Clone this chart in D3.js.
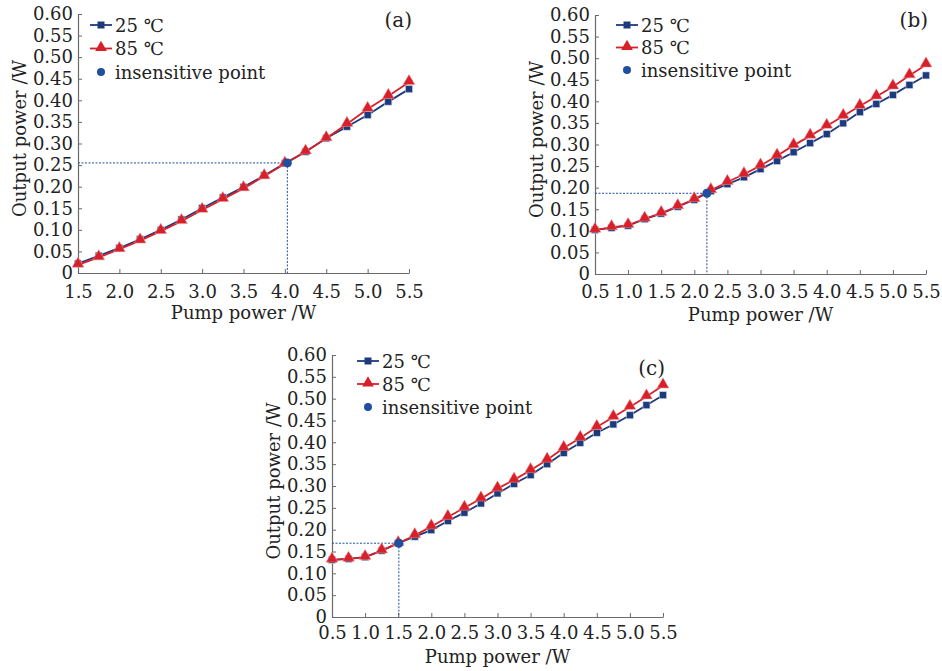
<!DOCTYPE html>
<html>
<head>
<meta charset="utf-8">
<script src="https://cdn.jsdelivr.net/npm/d3@7/dist/d3.min.js"></script>
<style>
  html, body { margin: 0; padding: 0; background: #fff; }
  svg { display: block; }
  text { font-family: "DejaVu Serif", "Liberation Serif", serif; fill: #222; }
</style>
</head>
<body>
<svg id="chart" width="942" height="671"></svg>
<script>
// ---------------- Data ----------------
const yTicks = [0, 0.05, 0.10, 0.15, 0.20, 0.25, 0.30, 0.35, 0.40, 0.45, 0.50, 0.55, 0.60];
const seriesNames = ["25 \u2103", "85 \u2103", "insensitive point"];
const xTitle = "Pump power /W";
const yTitle = "Output power /W";

// Panel (a)
const aX = [1.5, 1.75, 2.0, 2.25, 2.5, 2.75, 3.0, 3.25, 3.5, 3.75, 4.0, 4.25, 4.5, 4.75, 5.0, 5.25, 5.5];
const a25 = [0.022, 0.040, 0.058, 0.078, 0.100, 0.124, 0.150, 0.175, 0.199, 0.226, 0.254, 0.281, 0.312, 0.339, 0.366, 0.397, 0.426];
const a85 = [0.019, 0.036, 0.055, 0.075, 0.097, 0.120, 0.146, 0.171, 0.196, 0.224, 0.253, 0.281, 0.312, 0.345, 0.380, 0.410, 0.442];
const aXTicks = [1.5, 2.0, 2.5, 3.0, 3.5, 4.0, 4.5, 5.0, 5.5];
const aPoint = [4.03, 0.255];

// Panel (b)
const bX = [0.5, 0.75, 1.0, 1.25, 1.5, 1.75, 2.0, 2.25, 2.5, 2.75, 3.0, 3.25, 3.5, 3.75, 4.0, 4.25, 4.5, 4.75, 5.0, 5.25, 5.5];
const b25 = [0.102, 0.107, 0.112, 0.127, 0.140, 0.156, 0.172, 0.192, 0.208, 0.224, 0.243, 0.262, 0.282, 0.303, 0.324, 0.349, 0.375, 0.394, 0.415, 0.438, 0.460];
const b85 = [0.102, 0.108, 0.113, 0.128, 0.141, 0.157, 0.173, 0.194, 0.213, 0.231, 0.251, 0.274, 0.298, 0.320, 0.343, 0.366, 0.389, 0.411, 0.434, 0.460, 0.485];
const bXTicks = [0.5, 1.0, 1.5, 2.0, 2.5, 3.0, 3.5, 4.0, 4.5, 5.0, 5.5];
const bPoint = [2.19, 0.187];

// Panel (c)
const cX = [0.5, 0.75, 1.0, 1.25, 1.5, 1.75, 2.0, 2.25, 2.5, 2.75, 3.0, 3.25, 3.5, 3.75, 4.0, 4.25, 4.5, 4.75, 5.0, 5.25, 5.5];
const c25 = [0.131, 0.133, 0.137, 0.152, 0.169, 0.184, 0.199, 0.220, 0.239, 0.260, 0.283, 0.305, 0.325, 0.350, 0.376, 0.399, 0.422, 0.441, 0.462, 0.485, 0.508];
const c85 = [0.131, 0.133, 0.137, 0.152, 0.169, 0.187, 0.207, 0.229, 0.250, 0.271, 0.294, 0.314, 0.336, 0.360, 0.387, 0.410, 0.435, 0.458, 0.481, 0.505, 0.530];
const cXTicks = [0.5, 1.0, 1.5, 2.0, 2.5, 3.0, 3.5, 4.0, 4.5, 5.0, 5.5];
const cPoint = [1.51, 0.169];

// ---------------- Style ----------------
const BLUE = "#1d3a7c";
const RED = "#d7202a";
const DOT = "#1f4fa0";
const AXIS = "#6a6a6a";

const svg = d3.select("#chart");

function drawPanel(p) {
  const g = svg.append("g");
  const x = d3.scaleLinear().domain(p.xDomain).range([p.left, p.right]);
  const y = d3.scaleLinear().domain([0, 0.6]).range([p.bottom, p.top]);

  // axes
  const xAxis = d3.axisBottom(x).tickValues(p.xTicks).tickSizeInner(-4).tickSizeOuter(0)
    .tickFormat(d => d.toFixed(1)).tickPadding(p.xPad);
  const gx = g.append("g").attr("transform", `translate(0,${p.bottom})`).call(xAxis);
  const yAxis = d3.axisLeft(y).tickValues(yTicks).tickSizeInner(-4).tickSizeOuter(0)
    .tickFormat(d => d === 0 ? "0" : d.toFixed(2)).tickPadding(5);
  const gy = g.append("g").attr("transform", `translate(${p.left},0)`).call(yAxis);
  [gx, gy].forEach(a => {
    a.select(".domain").attr("stroke", AXIS).attr("stroke-width", 1.2);
    a.selectAll(".tick line").attr("stroke", AXIS).attr("stroke-width", 1);
    a.selectAll(".tick text").attr("font-family", "DejaVu Serif").attr("font-size", 18).attr("fill", "#222");
  });

  // axis titles
  g.append("text").attr("x", (p.left + p.right) / 2).attr("y", p.bottom + p.titleDy)
    .attr("text-anchor", "middle").attr("font-size", 18).text(xTitle);
  g.append("text").attr("transform", `translate(${p.left - 59},${(p.top + p.bottom) / 2 - 5}) rotate(-90)`)
    .attr("text-anchor", "middle").attr("dominant-baseline", "central").attr("font-size", 18).text(yTitle);

  // panel label
  g.append("text").attr("x", p.labelX).attr("y", p.labelY).attr("text-anchor", "end")
    .attr("dominant-baseline", "central").attr("font-size", 20).text(p.label);

  // dotted guide lines to the insensitive point
  const px = x(p.point[0]), py = y(p.point[1]);
  g.append("line").attr("x1", p.left).attr("x2", px).attr("y1", py).attr("y2", py)
    .attr("stroke", DOT).attr("stroke-width", 1).attr("stroke-dasharray", "2,1.5");
  g.append("line").attr("x1", px).attr("x2", px).attr("y1", py).attr("y2", p.bottom)
    .attr("stroke", DOT).attr("stroke-width", 1).attr("stroke-dasharray", "2,1.5");

  const line = d3.line().x(d => x(d[0])).y(d => y(d[1]));
  const d25 = p.xs.map((v, i) => [v, p.s25[i]]);
  const d85 = p.xs.map((v, i) => [v, p.s85[i]]);

  // 25 C series
  g.append("path").datum(d25).attr("d", line).attr("fill", "none").attr("stroke", BLUE).attr("stroke-width", 1.8);
  g.selectAll(".sq").data(d25).enter().append("rect")
    .attr("x", d => x(d[0]) - 3.5).attr("y", d => y(d[1]) - 3.5).attr("width", 7).attr("height", 7)
    .attr("fill", BLUE).attr("stroke", "#c9cfe0").attr("stroke-width", 0.6);

  // 85 C series
  const tri = d3.symbol().type(d3.symbolTriangle).size(60);
  g.append("path").datum(d85).attr("d", line).attr("fill", "none").attr("stroke", RED).attr("stroke-width", 1.8);
  g.selectAll(".tri").data(d85).enter().append("path")
    .attr("d", tri).attr("transform", d => `translate(${x(d[0])},${y(d[1]) - 1})`)
    .attr("fill", RED).attr("stroke", "#ee9999").attr("stroke-width", 0.5);

  // insensitive point
  g.append("circle").attr("cx", px).attr("cy", py).attr("r", 4.5).attr("fill", DOT);

  // legend
  const lx = p.legX, ly = p.legY, gap = p.legGap;
  g.append("line").attr("x1", lx).attr("x2", lx + 22).attr("y1", ly).attr("y2", ly).attr("stroke", BLUE).attr("stroke-width", 1.8);
  g.append("rect").attr("x", lx + 11 - 3.5).attr("y", ly - 3.5).attr("width", 7).attr("height", 7).attr("fill", BLUE);
  g.append("text").attr("x", lx + 25).attr("y", ly).attr("dominant-baseline", "central").attr("font-size", 18).text(seriesNames[0]);

  g.append("line").attr("x1", lx).attr("x2", lx + 22).attr("y1", ly + gap).attr("y2", ly + gap).attr("stroke", RED).attr("stroke-width", 1.8);
  g.append("path").attr("d", tri).attr("transform", `translate(${lx + 11},${ly + gap - 1})`).attr("fill", RED);
  g.append("text").attr("x", lx + 25).attr("y", ly + gap).attr("dominant-baseline", "central").attr("font-size", 18).text(seriesNames[1]);

  g.append("circle").attr("cx", lx + 11).attr("cy", ly + 2 * gap).attr("r", 4).attr("fill", DOT);
  g.append("text").attr("x", lx + 25).attr("y", ly + 2 * gap).attr("dominant-baseline", "central").attr("font-size", 18).text(seriesNames[2]);
}

drawPanel({ left: 78, right: 409, top: 14, bottom: 273, xDomain: [1.5, 5.5], xTicks: aXTicks, xPad: 12, titleDy: 46,
  xs: aX, s25: a25, s85: a85, point: aPoint, label: "(a)", labelX: 412, labelY: 20,
  legX: 90, legY: 25, legGap: 23.5 });
drawPanel({ left: 595, right: 926, top: 15, bottom: 274, xDomain: [0.5, 5.5], xTicks: bXTicks, xPad: 11, titleDy: 47,
  xs: bX, s25: b25, s85: b85, point: bPoint, label: "(b)", labelX: 928, labelY: 20,
  legX: 616, legY: 25, legGap: 22.5 });
drawPanel({ left: 332, right: 663, top: 355, bottom: 617, xDomain: [0.5, 5.5], xTicks: cXTicks, xPad: 9, titleDy: 46,
  xs: cX, s25: c25, s85: c85, point: cPoint, label: "(c)", labelX: 665, labelY: 368,
  legX: 357, legY: 361, legGap: 23 });
</script>
</body>
</html>
